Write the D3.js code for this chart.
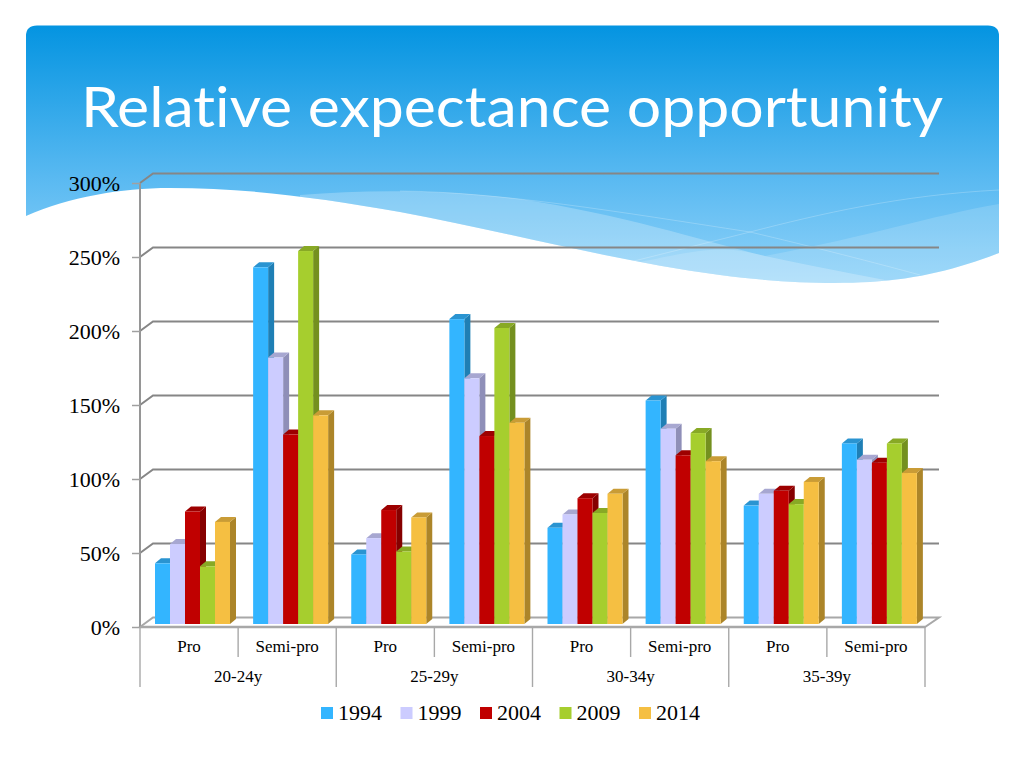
<!DOCTYPE html>
<html><head><meta charset="utf-8">
<style>html,body{margin:0;padding:0;background:#fff}svg{display:block}</style>
<script src="https://cdn.jsdelivr.net/npm/d3@7"></script></head>
<body><svg id="c" width="1024" height="768"></svg>
<script>
const title = "Relative expectance opportunity";
const ageGroups = ["20-24y","25-29y","30-34y","35-39y"];
const levels = ["Pro","Semi-pro"];
const years = ["1994","1999","2004","2009","2014"];
const s1994 = [41,241,47,206,65,151,80,122];
const s1999 = [54,180,58,166,74,132,88,111];
const s2004 = [76,128,77,127,85,114,90,109];
const s2009 = [39,252,49,200,75,129,81,122];
const s2014 = [69,141,72,136,88,110,96,102];
const series = [s1994,s1999,s2004,s2009,s2014];
const colors = ["#33b5ff","#ccccff","#c00000","#a6ce2e","#f5bf42"];
const sideColors = ["#1f7fb5","#8f8fb8","#860000","#74901f","#ac8529"];
const topColors = ["#2a94d1","#a7a7d1","#9d0000","#88a925","#c99c36"];
const yTicks = [0,50,100,150,200,250,300];

const svg = d3.select("#c");
const defs = svg.append("defs");
const g = defs.append("linearGradient").attr("id","bg").attr("x1",0).attr("x2",0).attr("y1",0).attr("y2",1);
g.append("stop").attr("offset","0").attr("stop-color","#0494e1");
g.append("stop").attr("offset","0.62").attr("stop-color","#5dbbf2");
g.append("stop").attr("offset","1").attr("stop-color","#8fd2f8");

const bgPath = "M26 36Q26 25.5 37 25.5L988 25.5Q999 25.5 999 36L999 253C960 268 920 279 870 282C830 284 780 283 720 275C620 262 520 235 400 212C320 198 250 188 170 188C120 188 70 197 26 216Z";
defs.append("clipPath").attr("id","bgclip").append("path").attr("d",bgPath);
svg.append("path").attr("d",bgPath).attr("fill","url(#bg)");
const deco = svg.append("g").attr("clip-path","url(#bgclip)");
deco.append("path").attr("fill","#fff").attr("fill-opacity",0.24)
  .attr("d","M300 195C370 189 450 190 520 199C620 214 700 240 765 256C830 270 880 278 930 290L300 290Z");
deco.append("path").attr("fill","#fff").attr("fill-opacity",0.15)
  .attr("d","M999 204C930 216 870 236 765 256C720 244 700 250 640 262L640 300L999 300Z");
deco.append("path").attr("fill","none").attr("stroke","#fff").attr("stroke-opacity",0.22)
  .attr("d","M400 191C500 192 620 212 750 232C810 246 880 264 920 275");
deco.append("path").attr("fill","none").attr("stroke","#fff").attr("stroke-opacity",0.22)
  .attr("d","M999 190C900 195 820 214 750 232C710 242 670 252 630 262");

svg.append("text").text(title).attr("x",81).attr("y",127)
  .attr("font-family","'Lato',sans-serif").attr("font-weight",400).attr("font-size",56).attr("fill","#fff")
  .style("font-variant-ligatures","none")
  .attr("textLength",862).attr("lengthAdjust","spacingAndGlyphs");

const y = d3.scaleLinear().domain([0,300]).range([627,183]);
const x0 = d3.scaleBand().domain(d3.range(8)).range([140,925]);
const xGroup = d3.scaleBand().domain(ageGroups).range([140,925]);
const depthX = 13, depthY = -9.5, barDX = 6, barDY = -5, barBase = -3;
const gridCol = "#868686";

// walls and gridlines
const grid = svg.append("g");
grid.selectAll("path.g").data(yTicks.filter(v=>v>0)).join("path")
  .attr("fill","none").attr("stroke",gridCol).attr("stroke-width",2)
  .attr("d",v=>`M140 ${y(v)}L${140+depthX} ${y(v)+depthY}L${925+depthX+1} ${y(v)+depthY}`);
grid.append("path").attr("fill","#fff").attr("stroke","#a8a8a8").attr("stroke-width",2)
  .attr("d",`M140 ${y(0)}L${140+depthX} ${y(0)+depthY}L${925+depthX+1} ${y(0)+depthY}L925 ${y(0)}Z`);

// bars
const inner = d3.scaleBand().domain(d3.range(5)).range([15,90]);
const barY = v => y(v)+barBase;
const barsG = svg.append("g");
d3.range(8).forEach(i=>{
  const cell = barsG.append("g");
  years.forEach((yr,k)=>{
    const v = series[k][i], xl = x0(i)+inner(k), w = inner.bandwidth(), t = barY(v), b = barY(0);
    const xr = xl+w;
    cell.append("path").attr("fill",sideColors[k])
      .attr("d",`M${xr} ${t}L${xr+barDX} ${t+barDY}L${xr+barDX} ${b+barDY}L${xr} ${b}Z`);
    cell.append("path").attr("fill",topColors[k])
      .attr("d",`M${xl} ${t}L${xl+barDX} ${t+barDY}L${xr+barDX} ${t+barDY}L${xr} ${t}Z`);
    cell.append("rect").attr("x",xl).attr("y",t).attr("width",w).attr("height",b-t).attr("fill",colors[k]);
  });
});

// value axis
const yAxis = d3.axisLeft(y).tickValues(yTicks).tickFormat(d=>d+"%").tickSize(8).tickPadding(12);
const ya = svg.append("g").attr("transform","translate(140,0)").call(yAxis);
ya.select(".domain").attr("stroke","#969696").attr("stroke-width",2).attr("d",`M0 ${y(300)}L0 ${y(0)}`);
ya.selectAll(".tick line").attr("stroke","#a0a0a0").attr("stroke-width",1.5);
ya.selectAll("text").attr("font-family","'Liberation Serif',serif").attr("font-size",22).attr("fill","#000").attr("dy","0.34em");

// category axes
const cat = svg.append("g");
cat.append("line").attr("x1",140).attr("x2",925).attr("y1",y(0)).attr("y2",y(0)).attr("stroke","#a8a8a8").attr("stroke-width",2.5);
d3.range(9).forEach(i=>{
  const xp = i<8 ? x0(i) : 925, major = i%2===0;
  cat.append("line").attr("x1",xp).attr("x2",xp).attr("y1",y(0)).attr("y2",major?687:657)
    .attr("stroke","#a8a8a8").attr("stroke-width",1.4);
});
d3.range(8).forEach(i=>{
  cat.append("text").text(levels[i%2]).attr("x",x0(i)+x0.bandwidth()/2).attr("y",652)
    .attr("text-anchor","middle").attr("font-family","'Liberation Serif',serif").attr("font-size",17).attr("fill","#000");
});
ageGroups.forEach(a=>{
  cat.append("text").text(a).attr("x",xGroup(a)+xGroup.bandwidth()/2).attr("y",682)
    .attr("text-anchor","middle").attr("font-family","'Liberation Serif',serif").attr("font-size",17).attr("fill","#000");
});

// legend
const legendX = d3.scalePoint().domain(years).range([321,639]);
const lg = svg.selectAll("g.lg").data(years).join("g").attr("transform",d=>`translate(${legendX(d)},707)`);
lg.append("rect").attr("width",12).attr("height",12).attr("fill",(d,i)=>colors[i]);
lg.append("text").text(d=>d).attr("x",17).attr("y",13).attr("font-family","'Liberation Serif',serif").attr("font-size",22).attr("fill","#000");
</script></body></html>
